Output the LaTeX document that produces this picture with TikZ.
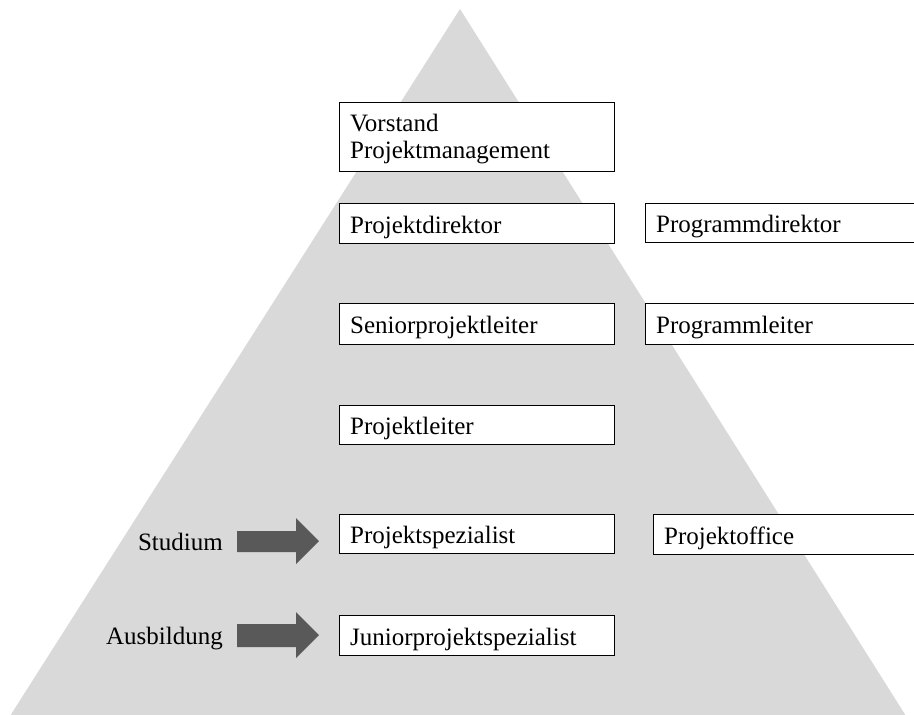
\documentclass[tikz,border=0pt]{standalone}
\usepackage{fontspec}
\setmainfont{Liberation Serif}
\definecolor{pyr}{HTML}{D9D9D9}
\definecolor{arr}{HTML}{595959}
\tikzset{
  lvlbox/.style={draw=black, line width=1.2pt, fill=white, anchor=north west,
    inner xsep=10.5pt, inner ysep=0pt, align=left,
    text height=19.5pt, text depth=0pt,
    font=\fontsize{25pt}{27pt}\selectfont},
  sidetext/.style={anchor=base east, inner sep=0pt, font=\fontsize{25pt}{27pt}\selectfont},
  blockarrow/.style={fill=arr, draw=none}
}
\begin{document}
\begin{tikzpicture}[x=1pt,y=-1pt]
\useasboundingbox (0,0) rectangle (914,715);
\clip (0,0) rectangle (914,715);
% pyramid
\fill[pyr] (460,9) -- (906,716) -- (10,716) -- cycle;
% left column boxes
\node[lvlbox, text height=22pt, text depth=, minimum width=275pt, minimum height=69pt, text width=254pt] (vorstand) at (339,102) {Vorstand\\Projektmanagement};
\node[lvlbox, minimum width=275pt, minimum height=40pt, text width=254pt] (pdir) at (339,203) {Projektdirektor};
\node[lvlbox, minimum width=275pt, minimum height=41pt, text width=254pt] (spl) at (339,303) {Seniorprojektleiter};
\node[lvlbox, minimum width=275pt, minimum height=39pt, text width=254pt] (pl) at (339,405) {Projektleiter};
\node[lvlbox, minimum width=275pt, minimum height=39pt, text width=254pt] (psp) at (339,514) {Projektspezialist};
\node[lvlbox, minimum width=275pt, minimum height=40pt, text width=254pt] (jps) at (339,615) {Juniorprojektspezialist};
% right column boxes (run off the page)
\node[lvlbox, minimum width=290pt, minimum height=39pt, text width=269pt] (prgdir) at (645,203) {Programmdirektor};
\node[lvlbox, minimum width=290pt, minimum height=41pt, text width=269pt] (prgl) at (645,303) {Programmleiter};
\node[lvlbox, minimum width=290pt, minimum height=40pt, text width=269pt] (poff) at (653,514) {Projektoffice};
% side labels
\node[sidetext] (studium) at (223,550) {Studium};
\node[sidetext] (ausb) at (223,644) {Ausbildung};
% block arrows
\fill[blockarrow] (237,531) -- (296,531) -- (296,518) -- (319,541) -- (296,564) -- (296,552) -- (237,552) -- cycle;
\fill[blockarrow] (237,624) -- (296,624) -- (296,612) -- (319,635) -- (296,658) -- (296,647) -- (237,647) -- cycle;
\end{tikzpicture}
\end{document}
